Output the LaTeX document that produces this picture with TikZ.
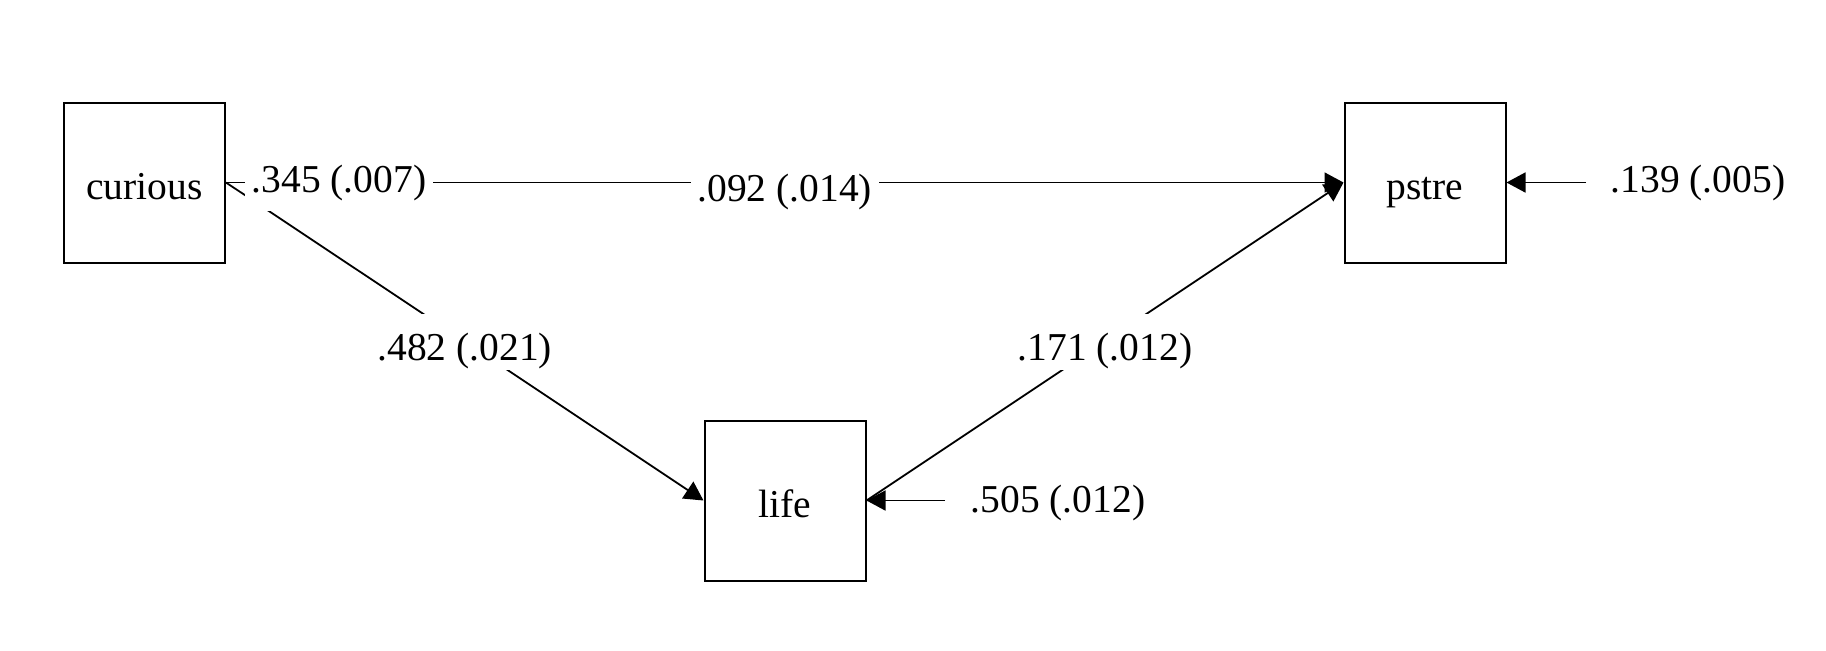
\documentclass[tikz,border=0pt]{standalone}
\usepackage{fontspec}
\setmainfont{Liberation Serif}
\usetikzlibrary{arrows.meta}
\begin{document}
\begin{tikzpicture}[x=0.5pt,y=-0.5pt,
  lblfont/.style={font=\fontsize{19.75}{24}\selectfont},
  varbox/.style={draw, line width=1pt, minimum width=80.5pt, minimum height=80pt, inner sep=0pt, text height=17pt, text depth=0pt, lblfont},
  lbl/.style={fill=white, inner xsep=3.5pt, inner ysep=0.5pt, text height=22.75pt, text depth=4.25pt, lblfont},
  plain/.style={inner sep=0pt, anchor=base, lblfont},
  path/.style={line width=0.9pt, -{Triangle[length=9.5pt,width=10pt]}}
]
\useasboundingbox (0,0) rectangle (1826,650);
\node[varbox] (curious) at (144.5,182.5) {curious};
\node[varbox] (pstre) at (1425,182.5) {pstre};
\node[varbox] (life) at (785,500.5) {life};
\coordinate (rp) at (1586,182.5);
\coordinate (rl) at (945,500.5);
\draw[path] (curious.east) -- node[lbl] (l092) {.092 (.014)} (pstre.west);
\draw[path] (curious.east) -- node[lbl] (l482) {.482 (.021)} (life.west);
\draw[path] (life.east) -- node[lbl] (l171) {.171 (.012)} (pstre.west);
\draw[path] (rp) -- (pstre.east);
\draw[path] (rl) -- (life.east);
\node[plain, fill=white, inner xsep=3.5pt, inner ysep=5.5pt] (l345) at (339,192) {.345 (.007)};
\node[plain] (l139) at (1698,192) {.139 (.005)};
\node[plain] (l505) at (1058,512) {.505 (.012)};
\end{tikzpicture}
\end{document}
